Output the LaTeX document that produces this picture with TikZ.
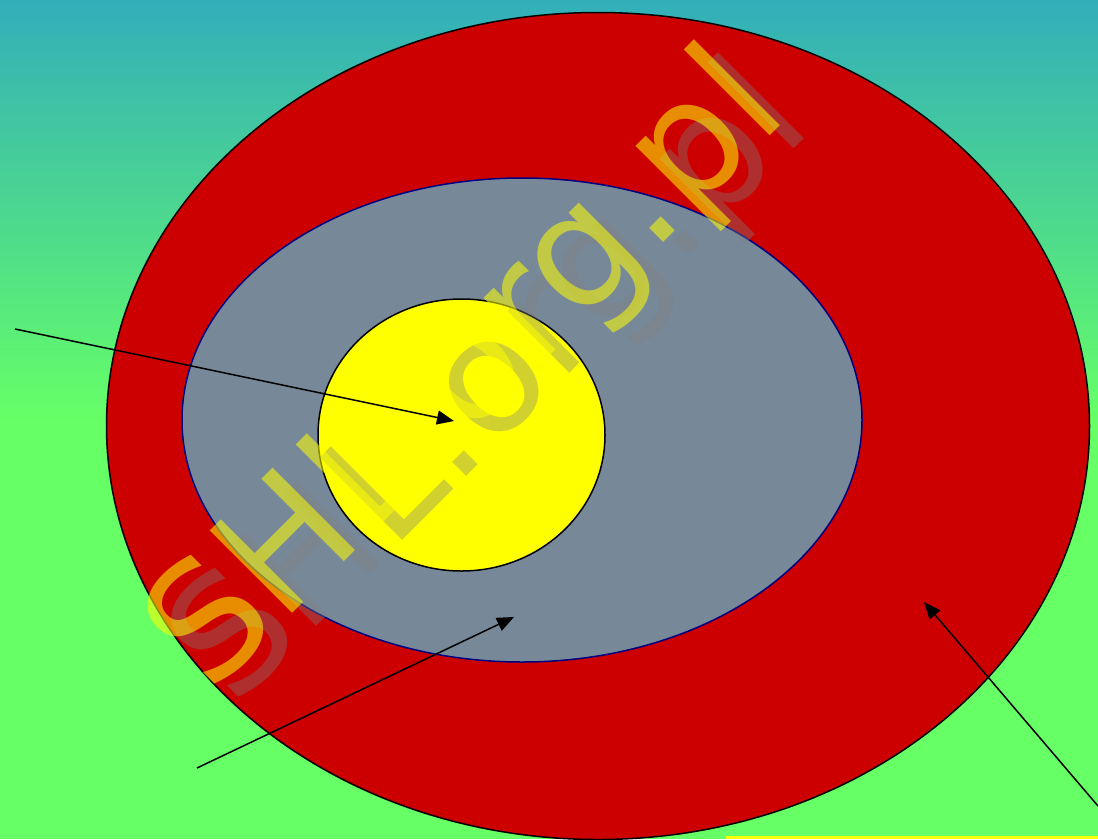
\documentclass[tikz,border=0pt]{standalone}
\usepackage{fontspec}
\newfontfamily\wmfont{DejaVu Sans}
\usetikzlibrary{shapes.geometric,arrows.meta}
\definecolor{bgtop}{RGB}{50,174,186}
\definecolor{bggreen}{RGB}{102,255,102}
\definecolor{ringred}{RGB}{204,0,0}
\definecolor{slate}{RGB}{119,136,153}
\definecolor{wmyellow}{RGB}{255,255,0}
\definecolor{wmshadow}{RGB}{128,128,128}
\definecolor{navyline}{RGB}{0,0,128}
\tikzset{
  ring/.style={ellipse, inner sep=0pt, line width=1.5pt},
  pointer/.style={line width=1.5pt, -{Triangle[length=17pt,width=14pt]}},
  wm/.style={font=\wmfont\fontsize{160}{160}\selectfont, anchor=base west, rotate=45, inner sep=0pt},
}
\begin{document}
\begin{tikzpicture}[x=1pt,y=-1pt]
\useasboundingbox (0,0) rectangle (1098,839);
\shade[top color=bgtop, bottom color=bggreen] (0,0) rectangle (1098,420);
\fill[bggreen] (0,419.5) rectangle (1098,839);
\fill[wmyellow] (726,836) rectangle (1098,839);
\node[ring, draw=black, fill=ringred, minimum width=983pt, minimum height=827pt] (outer) at (598,426) {};
\node[ring, draw=navyline, fill=slate, minimum width=680pt, minimum height=484pt] (middle) at (522,420) {};
\node[ring, draw=black, fill=wmyellow, minimum width=287pt, minimum height=272pt] (inner) at (461.5,435) {};
\coordinate (s1) at (15,329);
\coordinate (e1) at (454,421);
\coordinate (s2) at (197,768);
\coordinate (e2) at (514,617);
\coordinate (s3) at (1098,806);
\coordinate (e3) at (924,602);
\draw[pointer] (s1) -- (e1);
\draw[pointer] (s2) -- (e2);
\draw[pointer] (s3) -- (e3);
\node[wm, text=wmshadow, text opacity=0.37] (wmshade) at (234,709) {SHL.org.pl};
\node[wm, text=wmyellow, text opacity=0.55] (wmtext) at (210,696) {SHL.org.pl};
\end{tikzpicture}
\end{document}
